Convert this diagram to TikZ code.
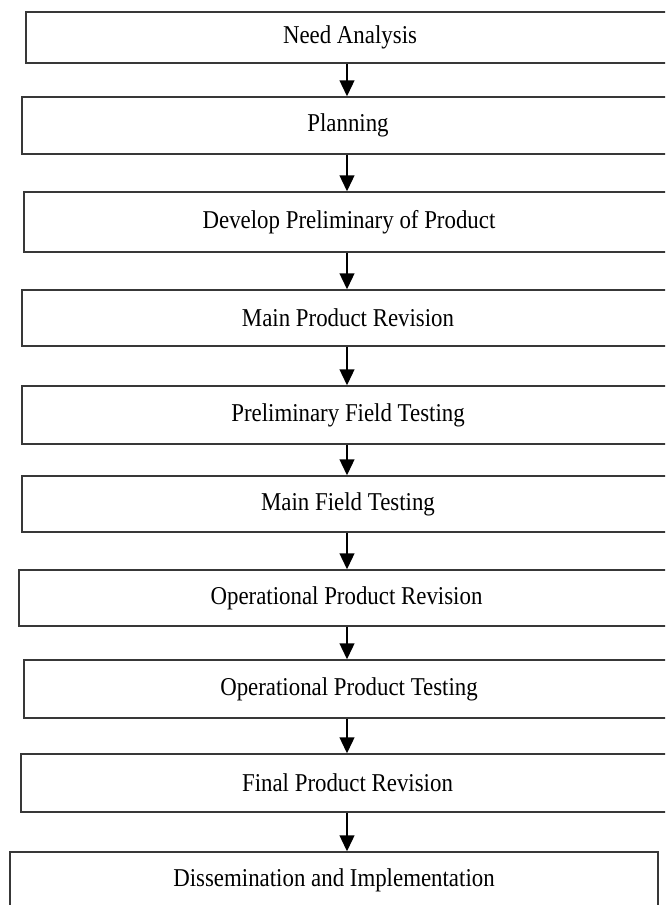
\documentclass[tikz,border=0pt]{standalone}
\usepackage{fontspec}
\setmainfont{Liberation Serif}
\usetikzlibrary{arrows.meta}
\tikzset{
  stepbox/.style={draw=black!78, line width=1pt, fill=white, rectangle, inner sep=0pt,
    font=\fontsize{17.5pt}{20pt}\selectfont, align=center},
  arr/.style={draw=black, line width=1.6pt, -{Triangle[length=12pt,width=11pt]}}
}
\newcommand{\bx}[6]{%
  \node[stepbox, minimum width={(#4-#2)*0.75pt}, minimum height={(#5-#3)*0.75pt}]
    (#1) at ({(#2+#4)/2},{(#3+#5)/2}) {\scalebox{0.98}[1.1]{#6}};}
\begin{document}
\begin{tikzpicture}[x=0.75pt,y=-0.75pt]
\useasboundingbox (0,0) rectangle (665,905);
\fill[white] (0,0) rectangle (665,905);
\clip (0,0) rectangle (665,905);
\coordinate (ax) at (347,0);
\bx{b1}{26}{12}{674}{63}{Need Analysis}
\bx{b2}{22}{97}{674}{154}{Planning}
\bx{b3}{24}{192}{674}{252}{Develop Preliminary of Product}
\bx{b4}{22}{290}{674}{346}{Main Product Revision}
\bx{b5}{22}{386}{674}{444}{Preliminary Field Testing}
\bx{b6}{22}{476}{674}{532}{Main Field Testing}
\bx{b7}{19}{570}{674}{626}{Operational Product Revision}
\bx{b8}{24}{660}{674}{718}{Operational Product Testing}
\bx{b9}{21}{754}{674}{812}{Final Product Revision}
\bx{b10}{10}{852}{658}{908}{Dissemination and Implementation}
\draw[arr] (b1.south -| ax) -- (b2.north -| ax);
\draw[arr] (b2.south -| ax) -- (b3.north -| ax);
\draw[arr] (b3.south -| ax) -- (b4.north -| ax);
\draw[arr] (b4.south -| ax) -- (b5.north -| ax);
\draw[arr] (b5.south -| ax) -- (b6.north -| ax);
\draw[arr] (b6.south -| ax) -- (b7.north -| ax);
\draw[arr] (b7.south -| ax) -- (b8.north -| ax);
\draw[arr] (b8.south -| ax) -- (b9.north -| ax);
\draw[arr] (b9.south -| ax) -- (b10.north -| ax);
\end{tikzpicture}
\end{document}
